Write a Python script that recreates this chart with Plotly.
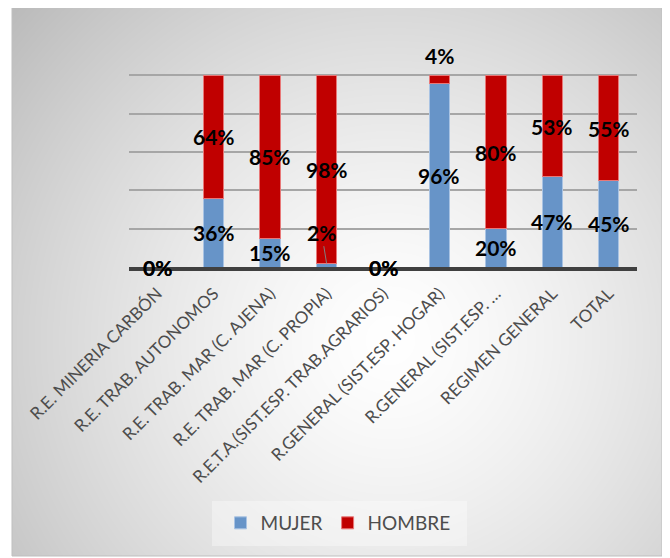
import base64, zlib, struct
import numpy as np
import plotly.graph_objects as go

categories = [
    "R.E. MINERIA CARBÓN",
    "R.E. TRAB. AUTONOMOS",
    "R.E. TRAB. MAR (C. AJENA)",
    "R.E. TRAB. MAR (C. PROPIA)",
    "R.E.T.A.(SIST.ESP. TRAB.AGRARIOS)",
    "R.GENERAL (SIST.ESP. HOGAR)",
    "R.GENERAL (SIST.ESP. …",
    "REGIMEN GENERAL",
    "TOTAL",
]
mujer = [0, 36, 15, 2, 0, 96, 20, 47, 45]
hombre = [0, 64, 85, 98, 0, 4, 80, 53, 55]

W, H = 670, 558
O = 8  # page offset of the figure inside the browser window
PX0, PX1, PY0, PY1 = 129, 637, 37, 267  # plot area in page pixels
L, T = PX0 - O, PY0 - O
R, B = W - (PX1 - O), H - (PY1 - O)
PW, PH = PX1 - PX0, PY1 - PY0

def fx(px):
    return (px - PX0) / PW

def fy(py):
    return (PY1 - py) / PH

# background gradient image (grayscale PNG)
def png_gray(arr):
    h, w = arr.shape
    raw = b"".join(b"\x00" + arr[i].tobytes() for i in range(h))
    def chunk(t, d):
        return struct.pack(">I", len(d)) + t + d + struct.pack(">I", zlib.crc32(t + d) & 0xffffffff)
    return (b"\x89PNG\r\n\x1a\n" + chunk(b"IHDR", struct.pack(">IIBBBBB", w, h, 8, 0, 0, 0, 0))
            + chunk(b"IDAT", zlib.compress(raw, 9)) + chunk(b"IEND", b""))

bx0, by0, bx1, by1 = 12, 6, 662, 556
yy, xx = np.mgrid[0:by1 - by0, 0:bx1 - bx0]
rr = np.hypot(xx + bx0 - 390, yy + by0 - 340)
val = 255 - 62 * (rr / 470) ** 1.4
img = np.clip(val, 185, 255).astype(np.uint8)
src = "data:image/png;base64," + base64.b64encode(png_gray(img)).decode()

BLUE = "#6794c8"
RED = "#c00000"

fig = go.Figure()
fig.add_trace(go.Bar(x=categories, y=mujer, name="MUJER", marker=dict(color=BLUE, line=dict(color="#a9c3e3", width=1))))
fig.add_trace(go.Bar(x=categories, y=hombre, name="HOMBRE", marker=dict(color=RED, line=dict(color="#e87878", width=1))))

label_font = dict(family="Lato", size=21, color="#000000")
special = {
    ("m", 3): dict(showarrow=True, arrowhead=0, arrowwidth=1, arrowcolor="#7f7f7f", ax=-5, ay=-31),
    ("h", 5): dict(yshift=24),
}
annotations = []
for i, c in enumerate(categories):
    m, h = mujer[i], hombre[i]
    for key, v, yc in (("m", m, m / 2), ("h", h, m + h / 2)):
        opts = dict(showarrow=False)
        if key == "m" and i == 3:
            yc = m
        opts.update(special.get((key, i), {}))
        annotations.append(dict(x=c, y=yc, xref="x", yref="y", text="<b>%d%%</b>" % v,
                                font=label_font, **opts))

fig.update_layout(
    barmode="stack",
    bargap=0.64,
    width=W, height=H,
    margin=dict(l=L, r=R, t=T, b=B, autoexpand=False),
    paper_bgcolor="#ffffff",
    plot_bgcolor="rgba(0,0,0,0)",
    showlegend=True,
    legend=dict(orientation="h", x=fx(338), y=fy(523), xanchor="center", yanchor="middle",
                font=dict(family="Lato", size=19, color="#4d4d4d"), bgcolor="rgba(0,0,0,0)",
                itemwidth=30, traceorder="normal"),
    annotations=annotations,
    images=[dict(source=src, xref="paper", yref="paper", x=fx(bx0), y=fy(by0),
                 sizex=(bx1 - bx0) / PW, sizey=(by1 - by0) / PH, sizing="stretch",
                 xanchor="left", yanchor="top", layer="below")],
    shapes=[
        dict(type="rect", xref="paper", yref="paper", x0=fx(bx0), x1=fx(bx1), y0=fy(by0), y1=fy(by1),
             line=dict(color="#bfbfbf", width=1), fillcolor="rgba(0,0,0,0)", layer="below"),
        dict(type="rect", xref="paper", yref="paper", x0=fx(212), x1=fx(467), y0=fy(501), y1=fy(546),
             line=dict(width=0), fillcolor="rgba(255,255,255,0.35)", layer="below"),
    ],
)
fig.update_xaxes(tickangle=-45, tickfont=dict(family="Lato", size=17, color="#4d4d4d"),
                 showline=True, linecolor="#404040", linewidth=4, ticks="outside", ticklen=6,
                 tickcolor="rgba(0,0,0,0)", showgrid=False)
fig.update_yaxes(range=[0, 120], dtick=20, showticklabels=False, showgrid=True,
                 gridcolor="#a6a6a6", gridwidth=1.5, zeroline=False)

fig.write_html("out.html")
